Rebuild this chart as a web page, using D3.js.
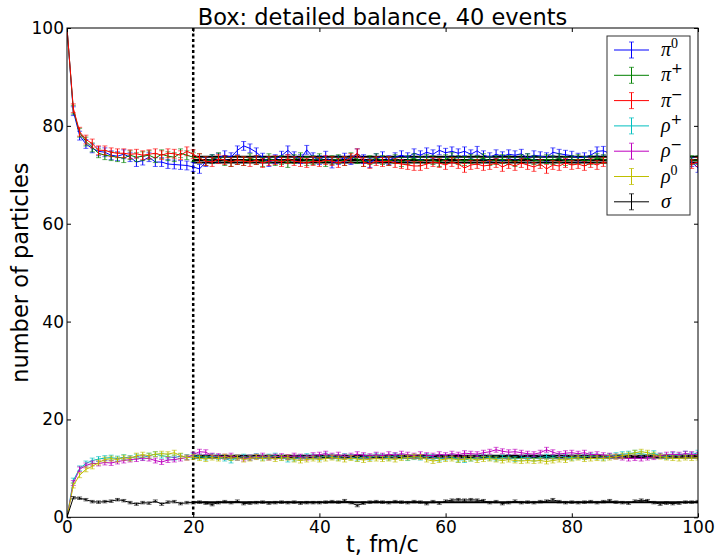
<!DOCTYPE html>
<html>
<head>
<meta charset="utf-8">
<script src="https://cdn.jsdelivr.net/npm/d3@7/dist/d3.min.js"></script>
<style>
  html, body { margin: 0; padding: 0; background: #fff; }
  svg { display: block; }
  .tick text { font-family: "DejaVu Sans", sans-serif; font-size: 17px; fill: #000; }
  .tick line { stroke: #000; stroke-width: 1; }
  .domain { display: none; }
</style>
</head>
<body>
<svg id="chart" width="718" height="557"></svg>
<script>
// Time axis, fm/c (one sample per fm/c)
const times = d3.range(0, 101);

// Particle numbers per species
const pi0 = [
  100, 83.0, 78.0, 76.3, 75.4, 74.8, 74.6, 74.0, 73.8, 74.2,
  73.6, 72.6, 72.9, 73.6, 72.6, 72.6, 72.2, 72.1, 72.0, 71.9,
  71.6, 71.2, 72.6, 73.2, 73.5, 74.0, 73.6, 75.0, 75.9, 75.4,
  74.6, 73.5, 72.6, 73.2, 73.9, 75.0, 73.8, 73.2, 75.1, 73.6,
  73.0, 73.9, 72.3, 73.0, 73.5, 73.0, 74.4, 73.2, 72.4, 73.4,
  73.8, 73.0, 73.6, 74.0, 73.6, 74.4, 74.0, 74.6, 74.2, 75.0,
  74.5, 74.8, 74.4, 74.8, 74.2, 74.9, 74.0, 73.6, 74.2, 73.8,
  74.2, 74.0, 74.3, 73.4, 74.0, 73.8, 73.6, 74.6, 74.3, 74.1,
  73.9, 73.5, 73.6, 74.0, 74.8, 74.9, 74.4, 74.0, 73.8, 74.2,
  73.9, 74.1, 73.6, 73.8, 74.0, 73.5, 74.2, 73.6, 73.2, 72.6,
  71.4
];
const piPlus = [
  100, 83.3, 78.6, 76.8, 75.6, 74.4, 74.0, 73.8, 73.6, 73.4,
  74.0, 73.6, 73.8, 74.0, 73.4, 74.2, 73.8, 73.6, 74.4, 74.0,
  73.6, 73.4, 72.8, 73.2, 73.6, 72.8, 72.6, 73.0, 72.8, 73.4,
  73.0, 72.6, 73.4, 72.8, 73.0, 72.4, 73.2, 73.6, 72.8, 73.0,
  73.4, 72.6, 73.0, 73.2, 72.8, 73.6, 73.2, 72.6, 73.0, 73.4,
  73.0, 72.8, 73.2, 72.6, 73.0, 73.4, 72.8, 73.2, 73.0, 72.6,
  73.2, 73.6, 73.0, 72.8, 73.2, 73.0, 73.4, 72.8, 73.0, 73.2,
  73.0, 72.6, 73.2, 73.4, 73.0, 72.8, 73.2, 73.0, 73.4, 72.8,
  73.0, 73.2, 72.8, 73.0, 73.4, 73.2, 72.8, 73.0, 73.2, 73.0,
  72.8, 73.2, 73.0, 73.4, 73.0, 72.6, 73.0, 73.2, 72.8, 73.0,
  73.0
];
const piMinus = [
  100, 83.6, 78.8, 77.2, 76.4, 75.0, 75.0, 74.6, 74.4, 74.4,
  74.2, 74.3, 74.0, 74.2, 74.4, 74.0, 74.4, 74.3, 74.0, 74.8,
  74.2, 73.4, 72.8, 72.6, 73.2, 73.0, 72.6, 73.0, 72.8, 72.6,
  73.0, 72.4, 72.8, 73.0, 72.6, 73.2, 72.8, 72.6, 72.4, 72.8,
  72.6, 73.0, 72.8, 72.4, 72.8, 73.4, 74.4, 72.6, 72.2, 72.8,
  72.6, 72.8, 72.4, 72.2, 72.0, 71.8, 71.8, 72.2, 72.6, 72.4,
  72.0, 72.6, 72.2, 71.4, 72.0, 72.2, 71.8, 72.0, 72.4, 71.6,
  72.2, 71.8, 72.4, 72.0, 71.6, 72.2, 71.2, 72.0, 71.8, 72.4,
  72.0, 72.2, 71.8, 72.4, 72.0, 72.6, 72.2, 72.4, 72.0, 72.6,
  72.4, 72.2, 72.6, 72.0, 72.4, 72.2, 72.6, 72.4, 72.0, 72.2,
  72.6
];
const rhoPlus = [
  0, 7.5, 10.0, 11.0, 11.6, 11.9, 12.1, 12.2, 12.0, 12.3,
  12.1, 12.4, 12.2, 12.6, 12.9, 12.6, 12.4, 12.2, 12.5, 12.3,
  12.6, 12.4, 12.2, 12.5, 12.3, 12.0, 11.6, 12.2, 12.4, 12.2,
  12.5, 12.2, 12.4, 12.6, 12.2, 11.8, 12.0, 12.2, 12.5, 12.4,
  12.2, 12.6, 12.4, 12.2, 12.5, 12.3, 12.0, 12.4, 12.2, 12.6,
  12.4, 12.2, 12.6, 12.4, 12.1, 12.3, 12.2, 12.5, 12.3, 12.0,
  12.2, 12.4, 11.8, 11.7, 12.0, 12.2, 12.4, 12.2, 12.0, 12.2,
  12.3, 11.9, 12.1, 12.3, 12.0, 12.2, 12.4, 12.2, 12.5, 12.3,
  12.2, 12.4, 12.3, 12.6, 12.4, 12.2, 12.5, 12.7, 12.9, 13.0,
  13.2, 13.0, 12.8, 13.1, 12.6, 12.4, 12.8, 12.6, 13.0, 12.8,
  13.2
];
const rhoMinus = [
  0, 7.0, 9.8, 10.6, 11.0, 11.0, 11.2, 11.1, 11.4, 11.6,
  11.8, 11.9, 12.1, 12.0, 11.6, 11.3, 11.7, 11.8, 12.0, 12.2,
  12.8, 13.4, 13.3, 12.6, 12.5, 12.4, 12.6, 12.2, 12.0, 12.2,
  12.4, 12.6, 12.2, 12.4, 12.5, 12.3, 12.6, 12.4, 12.2, 12.7,
  12.8, 13.0, 12.6, 12.8, 12.4, 12.6, 12.9, 12.7, 12.5, 12.8,
  12.6, 12.9, 12.7, 13.0, 12.8, 12.6, 12.9, 12.7, 12.6, 12.9,
  12.7, 13.0, 12.8, 13.1, 13.0, 12.9, 13.2, 13.4, 13.8, 13.5,
  13.3, 13.4, 13.2, 13.0, 12.9, 13.2, 13.8, 13.3, 12.9, 13.1,
  13.2, 13.0, 13.2, 12.8, 12.9, 12.7, 12.6, 12.4, 12.2, 12.0,
  12.1, 12.0, 12.2, 12.3, 12.6, 12.8, 12.9, 12.8, 13.0, 12.9,
  12.8
];
const rho0 = [
  0, 6.5, 8.6, 9.8, 10.4, 11.2, 11.8, 12.0, 11.8, 12.2,
  12.0, 12.6, 12.8, 12.6, 12.9, 13.0, 12.9, 13.2, 12.6, 12.2,
  12.3, 12.1, 11.9, 12.2, 12.0, 12.4, 12.1, 12.2, 11.8, 12.0,
  12.3, 12.0, 12.2, 11.9, 12.1, 12.2, 11.8, 11.6, 11.8, 12.0,
  11.8, 12.0, 12.2, 12.0, 11.8, 12.1, 11.9, 11.7, 11.9, 12.0,
  11.9, 12.0, 11.8, 12.1, 12.2, 12.4, 12.3, 11.8, 11.5, 11.7,
  11.9, 12.0, 11.7, 11.9, 12.0, 11.7, 11.9, 12.0, 11.8, 11.6,
  11.8, 11.6, 11.5, 11.6, 11.5, 11.6, 11.4, 11.6, 11.8, 11.7,
  12.0, 12.2, 11.9, 12.0, 12.1, 12.0, 12.2, 12.4, 12.6, 12.8,
  13.2, 13.4, 13.2, 12.8, 12.4, 12.2, 12.1, 12.0, 12.2, 12.1,
  12.2
];
const sigma = [
  0, 4.0, 3.9, 3.6, 3.2, 3.1, 3.2, 3.3, 3.6, 3.4,
  3.0, 2.7, 3.0, 2.9, 3.3, 2.7, 3.1, 3.2, 2.8, 3.0,
  3.0, 3.1, 2.9, 2.6, 3.0, 3.2, 3.0, 3.3, 2.8, 2.9,
  3.0, 3.1, 2.9, 3.0, 3.1, 3.0, 3.1, 2.9, 3.0, 3.0,
  3.0, 3.1, 3.2, 3.1, 3.4, 3.0, 2.4, 2.9, 3.1, 3.2,
  3.1, 3.0, 3.2, 3.1, 3.0, 3.2, 3.1, 2.8, 3.2, 2.9,
  3.3, 3.5, 3.6, 3.5, 3.6, 3.5, 3.4, 3.0, 3.2, 2.8,
  3.0, 3.3, 3.0, 3.1, 3.0, 3.2, 3.3, 3.6, 3.2, 3.0,
  3.1, 3.0, 3.1, 3.2, 3.0, 3.2, 3.4, 3.1, 3.0, 2.9,
  3.3, 3.5, 3.4, 3.0, 2.7, 2.9, 2.8, 2.9, 3.1, 3.1,
  3.2
];

// Statistical error (one sigma) for each species, by series order
const errors = [0.9, 0.9, 0.9, 0.5, 0.5, 0.5, 0.25];

// Species names, colours and series, in legend order
const names = ["π0", "π+", "π−", "ρ+", "ρ−", "ρ0", "σ"];
const colors = ["#0000ff", "#008000", "#ff0000", "#00bfbf", "#bf00bf", "#bfbf00", "#000000"];
const series = [pi0, piPlus, piMinus, rhoPlus, rhoMinus, rho0, sigma];

// Equilibrium levels averaged after the thermalisation time
const eqStart = 20;
const eqLevels = [73.7, 73.0, 72.5, 12.6, 12.4, 12.2, 3.1];

const xTicks = [0, 20, 40, 60, 80, 100];
const yTicks = [0, 20, 40, 60, 80, 100];

const svg = d3.select("#chart");
const L = 67, R = 698, T = 28, B = 517.3;

const x = d3.scaleLinear().domain([0, 100]).range([L, R]);
const y = d3.scaleLinear().domain([0, 100]).range([B, T]);

svg.append("defs").append("clipPath").attr("id", "plotclip")
  .append("rect").attr("x", L).attr("y", T).attr("width", R - L).attr("height", B - T);

const plot = svg.append("g").attr("clip-path", "url(#plotclip)");

// Equilibrium reference lines
plot.append("g").selectAll("line").data(eqLevels).join("line")
  .attr("x1", x(eqStart)).attr("x2", x(100))
  .attr("y1", d => y(d)).attr("y2", d => y(d))
  .attr("stroke", "#000").attr("stroke-width", 2);

// Thermalisation time marker
plot.append("line")
  .attr("x1", x(eqStart)).attr("x2", x(eqStart))
  .attr("y1", y(100)).attr("y2", y(0))
  .attr("stroke", "#000").attr("stroke-width", 2.5)
  .attr("stroke-dasharray", "3,2.5");

const line = d3.line().x((d, i) => x(times[i])).y(d => y(d));

series.forEach((vals, s) => {
  const g = plot.append("g");
  const pts = vals.map((v, i) => ({ t: times[i], v, e: i === 0 ? 0 : errors[s] }))
    .filter(d => d.e > 0);
  // error bars
  g.selectAll("line.eb").data(pts).join("line").attr("class", "eb")
    .attr("x1", d => x(d.t)).attr("x2", d => x(d.t))
    .attr("y1", d => y(d.v - d.e)).attr("y2", d => y(d.v + d.e))
    .attr("stroke", colors[s]).attr("stroke-width", 1);
  // caps
  const caps = pts.flatMap(d => [{ t: d.t, v: d.v - d.e }, { t: d.t, v: d.v + d.e }]);
  g.selectAll("line.cap").data(caps).join("line").attr("class", "cap")
    .attr("x1", d => x(d.t) - 2.5).attr("x2", d => x(d.t) + 2.5)
    .attr("y1", d => y(d.v)).attr("y2", d => y(d.v))
    .attr("stroke", colors[s]).attr("stroke-width", 1).attr("opacity", 0.6);
  g.append("path").datum(vals).attr("d", line)
    .attr("fill", "none").attr("stroke", colors[s]).attr("stroke-width", 1);
});

// Frame
svg.append("rect").attr("x", L).attr("y", T).attr("width", R - L).attr("height", B - T)
  .attr("fill", "none").attr("stroke", "#000").attr("stroke-width", 1);

// Axes with inward ticks on all sides
svg.append("g").attr("transform", `translate(0,${B})`)
  .call(d3.axisBottom(x).tickValues(xTicks).tickFormat(d3.format("d")).tickSizeInner(-4).tickSizeOuter(0).tickPadding(4));
svg.append("g").attr("transform", `translate(0,${T})`)
  .call(d3.axisTop(x).tickValues(xTicks).tickFormat("").tickSizeInner(-4).tickSizeOuter(0));
svg.append("g").attr("transform", `translate(${L},0)`)
  .call(d3.axisLeft(y).tickValues(yTicks).tickFormat(d3.format("d")).tickSizeInner(-4).tickSizeOuter(0).tickPadding(3));
svg.append("g").attr("transform", `translate(${R},0)`)
  .call(d3.axisRight(y).tickValues(yTicks).tickFormat("").tickSizeInner(-4).tickSizeOuter(0));

// Titles
svg.append("text").attr("x", (L + R) / 2).attr("y", 24.5).attr("text-anchor", "middle")
  .attr("font-family", "DejaVu Sans, sans-serif").attr("font-size", 22.5)
  .text("Box: detailed balance, 40 events");
svg.append("text").attr("x", (L + R) / 2).attr("y", 551.5).attr("text-anchor", "middle")
  .attr("font-family", "DejaVu Sans, sans-serif").attr("font-size", 22.5)
  .text("t, fm/c");
svg.append("text").attr("transform", `translate(28,${(T + B) / 2}) rotate(-90)`)
  .attr("text-anchor", "middle")
  .attr("font-family", "DejaVu Sans, sans-serif").attr("font-size", 22.5)
  .text("number of particles");

// Legend
const leg = svg.append("g");
leg.append("rect").attr("x", 607).attr("y", 36).attr("width", 83).attr("height", 179)
  .attr("fill", "#fff").attr("stroke", "#333").attr("stroke-width", 1);
names.forEach((nm, i) => {
  const cy = 50 + i * 25.3;
  const c = colors[i];
  leg.append("line").attr("x1", 614).attr("x2", 649).attr("y1", cy).attr("y2", cy)
    .attr("stroke", c).attr("stroke-width", 1);
  leg.append("line").attr("x1", 631.5).attr("x2", 631.5).attr("y1", cy - 8).attr("y2", cy + 8)
    .attr("stroke", c).attr("stroke-width", 1);
  [cy - 8, cy + 8].forEach(yy => leg.append("line")
    .attr("x1", 629).attr("x2", 634).attr("y1", yy).attr("y2", yy)
    .attr("stroke", c).attr("stroke-width", 1).attr("opacity", 0.7));
  const t = leg.append("text").attr("x", 661).attr("y", cy + 6)
    .attr("font-family", "Liberation Serif, serif").attr("font-style", "italic").attr("font-size", 20);
  t.append("tspan").text(nm[0]);
  if (nm.length > 1) {
    t.append("tspan").attr("dy", -8).attr("font-size", 14).attr("font-style", "normal")
      .attr("font-family", nm[1] === "0" ? "Liberation Serif, serif" : "DejaVu Sans, sans-serif")
      .text(nm[1]);
  }
});
</script>
</body>
</html>
